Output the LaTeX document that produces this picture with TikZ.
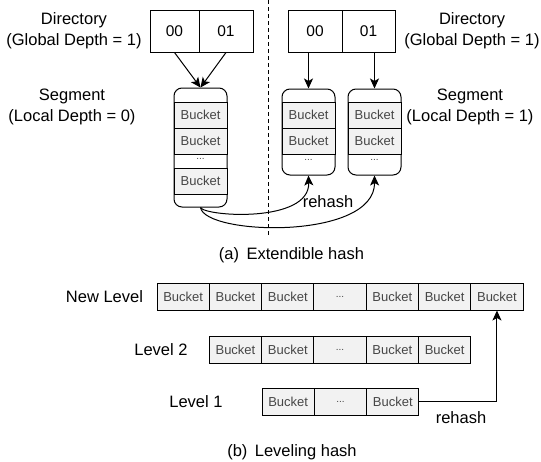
\documentclass[tikz,border=0pt]{standalone}
\usepackage{fontspec}
\setmainfont{Liberation Sans}
\usepackage{tikz}
\usetikzlibrary{arrows.meta,positioning,calc}
\definecolor{bktfill}{RGB}{242,242,242}
\definecolor{bkttext}{RGB}{70,70,70}
\newcommand{\lvdots}{{\fontsize{10}{12}\selectfont...}}

\tikzset{
  lbl/.style={font=\fontsize{16.5}{21}\selectfont,align=center,inner sep=0pt},
  dircell/.style={draw,line width=1pt,minimum height=42pt,inner sep=0pt,font=\fontsize{15.5}{18}\selectfont},
  segbox/.style={draw,line width=1pt,rounded corners=8pt,minimum width=53pt,inner sep=0pt},
  bkt/.style={draw,line width=1pt,fill=bktfill,text=bkttext,minimum width=53pt,minimum height=26pt,inner sep=0pt,font=\fontsize{13}{15}\selectfont},
  lvcell/.style={bkt,minimum width=52.3pt,minimum height=27pt},
  dotz/.style={text=bkttext,inner sep=0pt,font=\fontsize{10}{12}\selectfont},
  arr/.style={line width=1pt,-{Stealth[length=10pt,width=9pt,inset=2.5pt]}},
}

\begin{document}
\begin{tikzpicture}[x=1pt,y=-1pt]
  \useasboundingbox (0,0) rectangle (541,461);
  % (a) extendible hash, left half
  \node[lbl] (ldirlbl) at (74,31) {Directory\\(Global Depth = 1)};
  \node[lbl] (lseglbl) at (72,107) {Segment\\(Local Depth = 0)};
  \node[dircell,minimum width=49pt] (ld0) at (174.5,31) {00};
  \node[dircell,minimum width=54pt] (ld1) at (226,31) {01};
  \node[segbox,minimum height=119pt] (lseg) at (200.5,147.5) {};
  \node[bkt] (lb1) at (200.5,115) {Bucket};
  \node[bkt] (lb2) at (200.5,141) {Bucket};
  \node[dotz] (lbd) at (200.5,159) {...};
  \node[bkt] (lb3) at (200.5,181) {Bucket};
  \draw[arr] (ld0.south) -- (lseg.north);
  \draw[arr] (ld1.south) -- (lseg.north);
  % separator
  \coordinate (sepa) at (268,0);
  \coordinate (sepb) at (268,237);
  \draw[line width=1pt,dash pattern=on 4pt off 3pt] (sepa) -- (sepb);
  % right half
  \node[lbl] (rdirlbl) at (472,31) {Directory\\(Global Depth = 1)};
  \node[lbl] (rseglbl) at (470,107) {Segment\\(Local Depth = 1)};
  \node[dircell,minimum width=54pt] (rd0) at (315,31) {00};
  \node[dircell,minimum width=53pt] (rd1) at (368.5,31) {01};
  \node[segbox,minimum height=86pt] (rs1) at (308.5,132) {};
  \node[bkt] (r1b1) at (308.5,115) {Bucket};
  \node[bkt] (r1b2) at (308.5,141) {Bucket};
  \node[dotz] (r1bd) at (308.5,160) {...};
  \node[segbox,minimum height=86pt] (rs2) at (374.5,132) {};
  \node[bkt] (r2b1) at (374.5,115) {Bucket};
  \node[bkt] (r2b2) at (374.5,141) {Bucket};
  \node[dotz] (r2bd) at (374.5,160) {...};
  \draw[arr] (rs1.north |- rd0.south) -- (rs1.north);
  \draw[arr] (rs2.north |- rd1.south) -- (rs2.north);
  \draw[arr] (lseg.south) .. controls +(4.5,9) and +(1.5,48) .. (rs1.south);
  \draw[arr] (lseg.south) .. controls +(4.5,28) and +(0.5,65) .. (rs2.south);
  \node[lbl] (rhlbla) at (328,202) {rehash};
  \node[lbl] (capa) at (291.5,255) {(a)\hspace{0.45em}Extendible hash};
  % (b) leveling hash
  \node[lbl] (nllbl) at (104.5,296.5) {New Level};
  \node[lbl] (l2lbl) at (161,349.5) {Level 2};
  \node[lbl] (l1lbl) at (196,401.5) {Level 1};
  \foreach \t [count=\i] in {Bucket,Bucket,Bucket,\lvdots,Bucket,Bucket,Bucket}
    \node[lvcell] (nl\i) at ({157+52.3*(\i-0.5)},296.5) {\t};
  \foreach \t [count=\i] in {Bucket,Bucket,\lvdots,Bucket,Bucket}
    \node[lvcell] (lv2\i) at ({209.3+52.3*(\i-0.5)},349.5) {\t};
  \foreach \t [count=\i] in {Bucket,\lvdots,Bucket}
    \node[lvcell] (lv1\i) at ({262+52.3*(\i-0.5)},401.5) {\t};
  \draw[arr] (lv13.east) -| (nl7.south);
  \node[lbl] (rhlblb) at (461,418) {rehash};
  \node[lbl] (capb) at (292,452) {(b)\hspace{0.45em}Leveling hash};
\end{tikzpicture}
\end{document}
